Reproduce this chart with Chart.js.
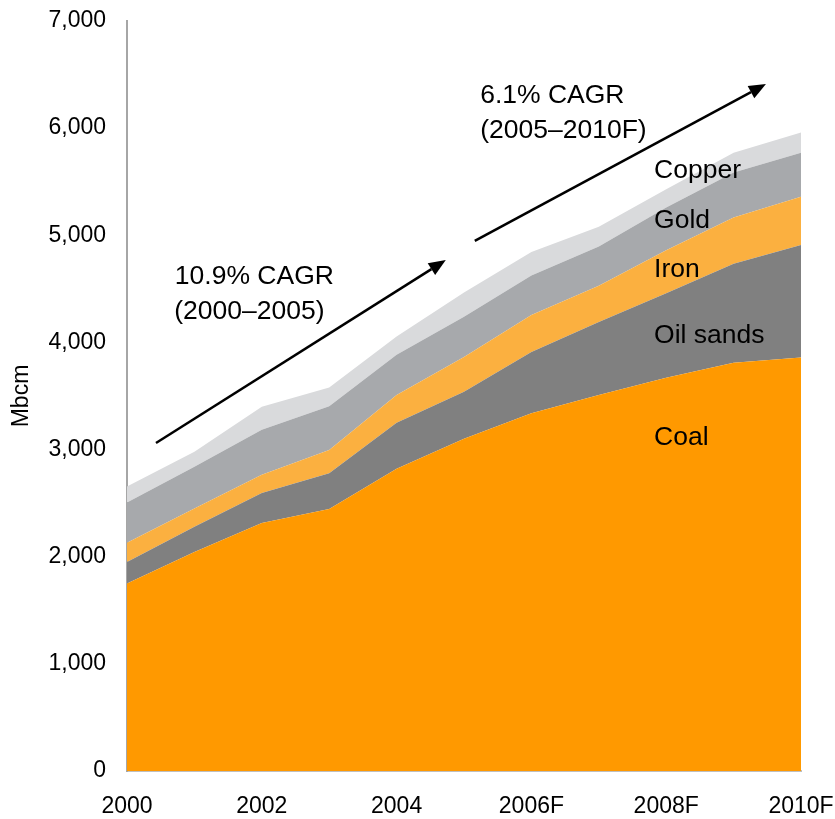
<!DOCTYPE html>
<html lang="en">
<head>
    <meta charset="UTF-8">
    <title>Mbcm by commodity</title>
    <script src="https://cdn.jsdelivr.net/npm/chart.js"></script>
    <style>
        body {
            margin: 0;
            padding: 0;
            background-color: #fff;
        }

        .chart-container {
            width: 835px;
            height: 819px;
        }
    </style>
</head>
<body>

<div class="chart-container">
    <canvas id="mbcm-chart" width="835" height="819"></canvas>
</div>

<script>
    const years = ['2000', '2001', '2002', '2003', '2004', '2005', '2006F', '2007F', '2008F', '2009F', '2010F'];

    const coal     = [1750, 2045, 2315, 2445, 2820, 3100, 3340, 3510, 3670, 3810, 3860];
    const oilSands = [200, 235, 280, 335, 430, 440, 570, 680, 790, 925, 1050];
    const iron     = [180, 170, 170, 215, 260, 325, 345, 340, 400, 430, 450];
    const gold     = [375, 390, 420, 410, 375, 375, 370, 365, 400, 420, 410];
    const copper   = [150, 140, 215, 175, 170, 225, 220, 185, 170, 185, 190];

    const yTicks = [0, 1000, 2000, 3000, 4000, 5000, 6000, 7000];

    const seriesNames = ['Coal', 'Oil sands', 'Iron', 'Gold', 'Copper'];
    const cagrTexts = ['10.9% CAGR', '(2000–2005)', '6.1% CAGR', '(2005–2010F)'];

    const FONT = '"Liberation Sans", Arial, sans-serif';

    // where the texts and arrows sit, in axis units (x = year index, y = Mbcm)
    const labelSpots = [
        { text: seriesNames[4], x: 7.82, y: 5600 },
        { text: seriesNames[3], x: 7.82, y: 5133 },
        { text: seriesNames[2], x: 7.82, y: 4676 },
        { text: seriesNames[1], x: 7.82, y: 4060 },
        { text: seriesNames[0], x: 7.82, y: 3108 },
        { text: cagrTexts[0], x: 0.71, y: 4611 },
        { text: cagrTexts[1], x: 0.70, y: 4284 },
        { text: cagrTexts[2], x: 5.24, y: 6300 },
        { text: cagrTexts[3], x: 5.24, y: 5973 }
    ];

    const arrows = [
        { x0: 0.43, y0: 3061, x1: 4.73, y1: 4769 },
        { x0: 5.16, y0: 4947, x1: 9.48, y1: 6412 }
    ];

    const notesPlugin = {
        id: 'notes',
        afterDatasetsDraw(chart) {
            const ctx = chart.ctx;
            const xs = chart.scales.x;
            const ys = chart.scales.y;
            ctx.save();

            ctx.strokeStyle = '#000';
            ctx.fillStyle = '#000';
            ctx.lineWidth = 2.5;
            arrows.forEach(a => {
                const x0 = xs.getPixelForValue(a.x0), y0 = ys.getPixelForValue(a.y0);
                const x1 = xs.getPixelForValue(a.x1), y1 = ys.getPixelForValue(a.y1);
                const ang = Math.atan2(y1 - y0, x1 - x0);
                const len = 17, half = 7;
                const bx = x1 - len * Math.cos(ang), by = y1 - len * Math.sin(ang);
                ctx.beginPath();
                ctx.moveTo(x0, y0);
                ctx.lineTo(bx, by);
                ctx.stroke();
                ctx.beginPath();
                ctx.moveTo(x1, y1);
                ctx.lineTo(bx + half * Math.sin(ang), by - half * Math.cos(ang));
                ctx.lineTo(bx - half * Math.sin(ang), by + half * Math.cos(ang));
                ctx.closePath();
                ctx.fill();
            });

            ctx.font = '26.5px ' + FONT;
            ctx.textAlign = 'left';
            ctx.textBaseline = 'middle';
            labelSpots.forEach(l => {
                ctx.fillText(l.text, xs.getPixelForValue(l.x), ys.getPixelForValue(l.y));
            });
            ctx.restore();
        }
    };

    function areaSet(label, data, color, fill) {
        return {
            label: label,
            data: data,
            backgroundColor: color,
            borderColor: color,
            borderWidth: 0,
            pointRadius: 0,
            tension: 0,
            fill: fill
        };
    }

    const ctx = document.getElementById('mbcm-chart').getContext('2d');
    new Chart(ctx, {
        type: 'line',
        data: {
            labels: years,
            datasets: [
                areaSet(seriesNames[0], coal, '#FF9900', 'origin'),
                areaSet(seriesNames[1], oilSands, '#808080', '-1'),
                areaSet(seriesNames[2], iron, '#FBB040', '-1'),
                areaSet(seriesNames[3], gold, '#A7A9AC', '-1'),
                areaSet(seriesNames[4], copper, '#D9DADC', '-1')
            ]
        },
        options: {
            responsive: false,
            animation: false,
            layout: { padding: { top: 21, right: 34, left: 0, bottom: 0 } },
            plugins: {
                legend: { display: false },
                tooltip: { enabled: false }
            },
            scales: {
                x: {
                    offset: false,
                    grid: { display: false, drawTicks: false },
                    border: { display: true, color: '#BFBFBF', width: 2 },
                    ticks: {
                        autoSkip: false,
                        maxRotation: 0,
                        padding: 22,
                        color: '#000',
                        font: { family: FONT, size: 23 },
                        callback: (v, i) => (i % 2 === 0 ? years[i] : '')
                    },
                    afterFit: scale => {
                        scale.height = 48;
                        scale.paddingLeft = 0;
                        scale.paddingRight = 0;
                    }
                },
                y: {
                    stacked: true,
                    min: 0,
                    max: 7000,
                    afterBuildTicks: scale => { scale.ticks = yTicks.map(v => ({ value: v })); },
                    grid: { display: false, drawTicks: false },
                    border: { display: true, color: '#A6A6A6', width: 2 },
                    ticks: {
                        padding: 21,
                        color: '#000',
                        font: { family: FONT, size: 23 },
                        callback: v => v.toLocaleString('en-US')
                    },
                    title: {
                        display: true,
                        text: 'Mbcm',
                        color: '#000',
                        font: { family: FONT, size: 23 },
                        padding: { top: 8, bottom: 0 }
                    },
                    afterFit: scale => {
                        scale.width = 127;
                        scale.paddingTop = 0;
                        scale.paddingBottom = 0;
                    }
                }
            }
        },
        plugins: [notesPlugin]
    });
</script>

</body>
</html>
